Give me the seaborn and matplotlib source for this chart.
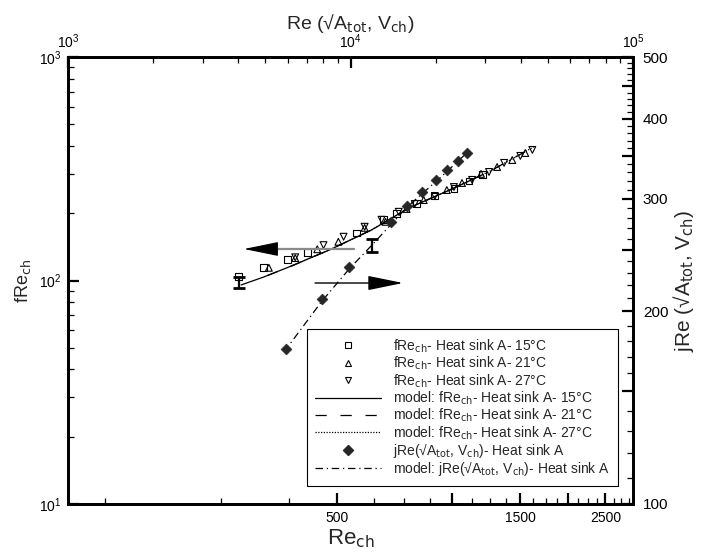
import matplotlib
matplotlib.use("Agg")
import matplotlib.pyplot as plt
import seaborn as sns
from matplotlib.lines import Line2D
from matplotlib.ticker import FixedLocator, FixedFormatter, NullFormatter, NullLocator, LogLocator

# fRe_ch measurements, heat sink A (Re_ch, fRe_ch)
re_15 = [278, 323, 372, 419, 563, 662, 716, 808, 900, 1009, 1104, 1195]
fre_15 = [104, 114, 124, 134, 163, 187, 200, 222, 239, 259, 279, 297]
re_21 = [333, 390, 445, 505, 591, 670, 760, 842, 967, 1059, 1187, 1307, 1431, 1547]
fre_21 = [114, 126, 138, 149, 172, 183, 209, 229, 254, 273, 300, 322, 346, 372]
re_27 = [390, 462, 521, 591, 654, 725, 798, 900, 1009, 1125, 1245, 1363, 1502, 1614]
fre_27 = [127, 144, 157, 174, 187, 203, 220, 239, 262, 282, 306, 336, 361, 384]

# fRe_ch model curves
model_re_15 = [282, 323, 381, 478, 616, 770, 997, 1200]
model_fre_15 = [95.5, 103.7, 116.1, 136.9, 168.3, 211.1, 256.7, 298]
model_re_21 = [330, 381, 478, 616, 770, 997, 1269, 1550]
model_fre_21 = [105.2, 116.1, 136.9, 168.3, 211.1, 256.7, 312.2, 378]
model_re_27 = [381, 478, 616, 770, 997, 1269, 1643]
model_fre_27 = [116.1, 136.9, 168.3, 211.1, 256.7, 312.2, 399.9]

# jRe(sqrt(A_tot), V_ch) measurements and model
re_sqrtA = [5910, 7930, 9880, 13900, 15800, 17900, 20100, 22000, 24000, 25800]
jre = [175, 209, 235, 276, 292, 308, 321, 333, 344, 354]
model_re_sqrtA = [5816, 7927, 9959, 11917, 15849, 20740, 26485]
model_jre = [172.9, 207.7, 233.9, 254.1, 291.3, 323.5, 357.8]

# representative uncertainty bars
fre_err_re, fre_err_val, fre_err = 278, 98, 5.5
jre_err_re, jre_err_val, jre_err = 11917, 254, 6

# axis ticks
bottom_major = [500, 1000, 1500, 2000, 2500]
bottom_labels = ["500", "", "1500", "", "2500"]
bottom_minor = [125 * k for k in range(1, 24) if (125 * k) % 500 != 0]
left_minor = [m * 10 ** e for e in (1, 2) for m in range(2, 10)]
right_major = [100, 150, 200, 250, 300, 350, 400, 450, 500]
right_labels = ["100", "", "200", "", "300", "", "400", "", "500"]
right_minor = [v for v in range(110, 500, 10) if v % 50 != 0]
top_minor = [m * 10 ** e for e in (3, 4) for m in range(2, 10)]

sns.set_style("ticks")
plt.rcParams["font.family"] = ["Liberation Sans", "DejaVu Sans"]

RECT = [0.0966, 0.0984, 0.8026, 0.7996]
LIM_BOTTOM, LIM_LEFT = (100, 2950), (10, 1000)
LIM_TOP, LIM_RIGHT = (1e3, 1e5), (100, 500)

fig = plt.figure(figsize=(7.04, 5.59), dpi=100)
ax = fig.add_axes(RECT)
ax.set_xscale("log")
ax.set_yscale("log")
ax.set_xlim(*LIM_BOTTOM)
ax.set_ylim(*LIM_LEFT)

# right axis (jRe), then top axis (Re based on sqrt(A_tot)) sharing it
ax_r = ax.twinx()
ax_r.set_yscale("log")
ax_r.set_ylim(*LIM_RIGHT)
ax_t = ax_r.twiny()
ax_t.set_xscale("log")
ax_t.set_xlim(*LIM_TOP)

open_kw = dict(s=24, ax=ax, zorder=4, legend=False)
for xs, ys, mk in ((re_15, fre_15, "s"), (re_21, fre_21, "^"), (re_27, fre_27, "v")):
    sns.scatterplot(x=xs, y=ys, marker=mk, **open_kw)
    coll = ax.collections[-1]
    coll.set_facecolor("none")
    coll.set_edgecolor("black")
    coll.set_linewidth(0.8)

line_kw = dict(ax=ax, color="black", lw=0.9, estimator=None, sort=False, legend=False)
sns.lineplot(x=model_re_15, y=model_fre_15, linestyle="-", **line_kw)
sns.lineplot(x=model_re_21, y=model_fre_21, linestyle=(0, (9, 11)), **line_kw)
sns.lineplot(x=model_re_27, y=model_fre_27, linestyle=(0, (1, 1.2)), **line_kw)

ax.errorbar([fre_err_re], [fre_err_val], yerr=[fre_err], fmt="none", ecolor="black",
            elinewidth=1.6, capsize=4, capthick=2, zorder=5)

sns.lineplot(x=model_re_sqrtA, y=model_jre, ax=ax_t, color="black", lw=0.9,
             linestyle=(0, (6, 3, 1, 3)), estimator=None, sort=False, legend=False)
sns.scatterplot(x=re_sqrtA, y=jre, ax=ax_t, marker="D", s=30, color="#262626",
                edgecolor="#262626", linewidth=0.5, zorder=4, legend=False)
ax_t.errorbar([jre_err_re], [jre_err_val], yerr=[jre_err], fmt="none", ecolor="black",
              elinewidth=1.6, capsize=4, capthick=2, zorder=5)

# direction arrows: left one points to the fRe_ch axis, right one to the jRe axis
ax_t.annotate("", xy=(0.3646, 0.5705), xytext=(0.5062, 0.5705), xycoords="axes fraction",
              arrowprops=dict(arrowstyle="-", color="#8a8a8a", lw=1.6,
                              shrinkA=0, shrinkB=0))
ax_t.annotate("", xy=(0.3115, 0.5705), xytext=(0.3680, 0.5705), xycoords="axes fraction",
              arrowprops=dict(arrowstyle="-|>,head_length=2.2,head_width=0.45",
                              fc="black", ec="black", lw=0.8, shrinkA=0, shrinkB=0))
ax_t.annotate("", xy=(0.5929, 0.4944), xytext=(0.4372, 0.4944), xycoords="axes fraction",
              arrowprops=dict(arrowstyle="-|>,head_length=2.2,head_width=0.45",
                              fc="black", ec="black", lw=1.0, shrinkA=0, shrinkB=0))

# major ticks on the four data axes
ax.xaxis.set_major_locator(FixedLocator(bottom_major))
ax.xaxis.set_major_formatter(FixedFormatter(bottom_labels))
ax.yaxis.set_major_locator(LogLocator(base=10))
ax_r.yaxis.set_major_locator(FixedLocator(right_major))
ax_r.yaxis.set_major_formatter(FixedFormatter(right_labels))
ax_t.xaxis.set_major_locator(LogLocator(base=10))
for axis in (ax.xaxis, ax.yaxis, ax_r.yaxis, ax_t.xaxis):
    axis.set_minor_locator(NullLocator())

major_kw = dict(which="major", direction="in", length=8, width=1.6, color="black",
                labelcolor="black")
ax.tick_params(axis="x", bottom=True, top=False, labelsize=10, pad=5, **major_kw)
ax.tick_params(axis="y", left=True, right=False, labelsize=10, pad=5, **major_kw)
ax_r.tick_params(axis="y", right=True, left=False, labelsize=11, pad=7, **major_kw)
ax_t.tick_params(axis="x", top=True, bottom=False, labelsize=10, pad=4, **major_kw)


def tick_layer(xlim, ylim, xticks, yticks, sides):
    """Frameless overlay carrying the short intermediate tick marks."""
    lay = fig.add_axes(RECT, label="ticks_" + "".join(sides))
    lay.set_xscale("log")
    lay.set_yscale("log")
    lay.set_xlim(*xlim)
    lay.set_ylim(*ylim)
    lay.patch.set_visible(False)
    for sp in lay.spines.values():
        sp.set_visible(False)
    lay.xaxis.set_major_locator(FixedLocator(xticks))
    lay.yaxis.set_major_locator(FixedLocator(yticks))
    for axis in (lay.xaxis, lay.yaxis):
        axis.set_major_formatter(NullFormatter())
        axis.set_minor_locator(NullLocator())
    flags = {s: (s in sides) for s in ("bottom", "top", "left", "right")}
    lay.tick_params(which="major", direction="in", length=4, width=0.9, color="black",
                    labelbottom=False, labeltop=False, labelleft=False, labelright=False,
                    **flags)
    lay.set_navigate(False)
    return lay


tick_layer(LIM_BOTTOM, LIM_LEFT, bottom_minor, left_minor, ("bottom", "left"))
tick_layer(LIM_TOP, LIM_RIGHT, top_minor, right_minor, ("top", "right"))

for a in (ax, ax_r, ax_t):
    for sp in a.spines.values():
        sp.set_visible(True)
        sp.set_linewidth(1.8)
        sp.set_color("black")

ax.set_xlabel("Re$_{\\mathrm{ch}}$", fontsize=16, labelpad=2)
ax.set_ylabel("fRe$_{\\mathrm{ch}}$", fontsize=13, labelpad=4)
ax_t.set_xlabel("Re (√A$_{\\mathrm{tot}}$, V$_{\\mathrm{ch}}$)", fontsize=14, labelpad=3)
ax_r.set_ylabel("jRe (√A$_{\\mathrm{tot}}$, V$_{\\mathrm{ch}}$)", fontsize=15, labelpad=2)

handles = [
    Line2D([], [], ls="none", marker="s", ms=4.5, mfc="none", mec="black", mew=0.8),
    Line2D([], [], ls="none", marker="^", ms=5, mfc="none", mec="black", mew=0.8),
    Line2D([], [], ls="none", marker="v", ms=5, mfc="none", mec="black", mew=0.8),
    Line2D([], [], color="black", lw=0.9),
    Line2D([], [], color="black", lw=0.9, ls=(0, (9, 11))),
    Line2D([], [], color="black", lw=0.9, ls=(0, (1, 1.2))),
    Line2D([], [], ls="none", marker="D", ms=5.5, color="#262626"),
    Line2D([], [], color="black", lw=0.9, ls=(0, (6, 3, 1, 3))),
]
labels = [
    "fRe$_{\\mathrm{ch}}$- Heat sink A- 15°C",
    "fRe$_{\\mathrm{ch}}$- Heat sink A- 21°C",
    "fRe$_{\\mathrm{ch}}$- Heat sink A- 27°C",
    "model: fRe$_{\\mathrm{ch}}$- Heat sink A- 15°C",
    "model: fRe$_{\\mathrm{ch}}$- Heat sink A- 21°C",
    "model: fRe$_{\\mathrm{ch}}$- Heat sink A- 27°C",
    "jRe(√A$_{\\mathrm{tot}}$, V$_{\\mathrm{ch}}$)- Heat sink A",
    "model: jRe(√A$_{\\mathrm{tot}}$, V$_{\\mathrm{ch}}$)- Heat sink A",
]
leg = ax_t.legend(handles, labels, loc="upper left", bbox_to_anchor=(0.423, 0.3915),
                  borderaxespad=0, fontsize=10, frameon=True, fancybox=False,
                  framealpha=1, edgecolor="black", handlelength=4.7, handletextpad=0.9,
                  labelspacing=0.0, borderpad=0.6)
leg.get_frame().set_linewidth(0.8)
leg.set_zorder(10)

fig.savefig("out.png", dpi=100)
